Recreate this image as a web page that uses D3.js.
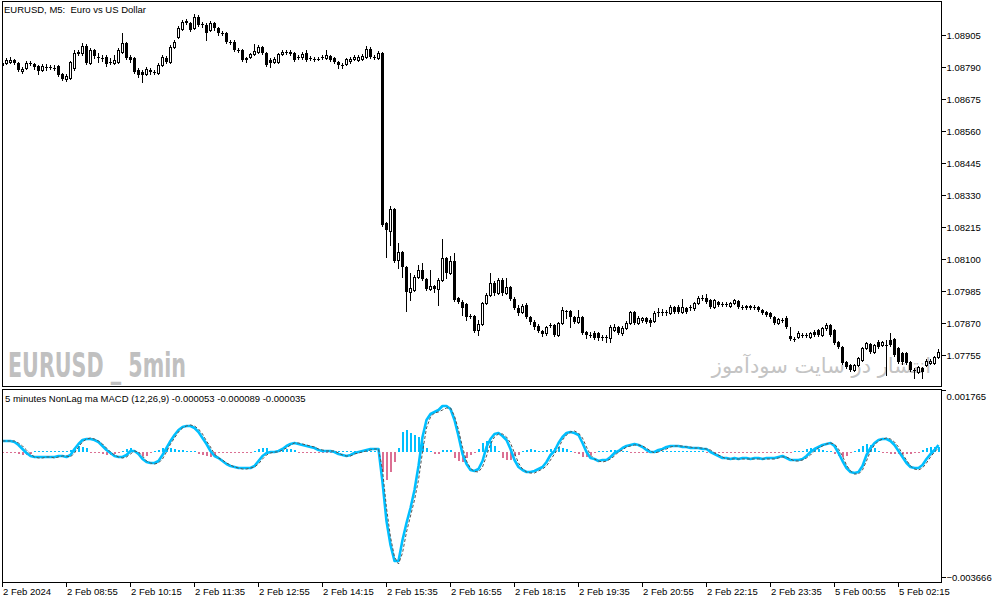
<!DOCTYPE html>
<html>
<head>
<meta charset="utf-8">
<script src="https://cdn.jsdelivr.net/npm/d3@7"></script>
<style>
  body { margin: 0; background: #fff; }
  svg text { font-family: "Liberation Sans", Arial, sans-serif; font-size: 9.5px; fill: #000; }
</style>
</head>
<body>
<div id="chart"></div>
<script>
// ---------------------------------------------------------------
// EURUSD M5 candles, prices stored as points above 1.07000
// ---------------------------------------------------------------
const priceBase = 1.07;

const openPts = [
  1797,1804,1808,1815,1804,1776,1786,1804,1801,1794,
  1779,1790,1790,1786,1794,1765,1747,1750,1786,1840,
  1840,1865,1804,1851,1826,1822,1826,1808,1804,1808,
  1844,1876,1826,1822,1779,1772,1765,1779,1772,1768,
  1797,1822,1808,1862,1898,1927,1955,1948,1930,1970,
  1945,1941,1923,1948,1930,1912,1912,1880,1880,1851,
  1851,1822,1826,1837,1844,1862,1840,1815,1808,1808,
  1837,1844,1844,1840,1826,1826,1840,1822,1819,1819,
  1826,1822,1830,1822,1808,1797,1801,1812,1819,1815,
  1819,1826,1855,1826,1822,1840,1229,1201,1280,1096,
  1125,1071,981,989,1035,1060,1028,992,1003,992,
  1025,1104,1050,1093,960,945,938,895,895,845,
  866,942,971,1014,978,1025,978,999,956,924,
  910,935,892,874,859,841,834,863,863,827,
  870,913,913,892,874,892,838,827,834,834,
  820,820,816,845,856,834,852,870,910,870,
  881,888,881,877,910,910,910,906,927,927,
  910,924,927,924,942,960,960,953,927,945,
  938,938,931,942,949,927,931,931,927,927,
  917,910,906,892,870,881,888,823,813,820,
  827,827,820,838,845,827,852,863,845,802,
  784,730,719,701,719,737,780,795,766,802,
  791,791,809,813,780,762,762,730,701,694,
  708,719,726,726,748
];

const highPts = [
  1812,1822,1826,1819,1808,1790,1812,1812,1804,1797,
  1801,1801,1797,1797,1797,1768,1765,1812,1851,1851,
  1876,1873,1858,1855,1840,1833,1833,1822,1833,1858,
  1912,1880,1833,1826,1786,1779,1790,1786,1779,1804,
  1833,1830,1869,1887,1937,1959,1962,1952,1980,1977,
  1952,1948,1955,1952,1934,1919,1916,1887,1887,1858,
  1855,1826,1840,1873,1869,1865,1844,1822,1826,1840,
  1851,1851,1851,1844,1833,1844,1851,1830,1826,1826,
  1833,1851,1833,1826,1812,1804,1822,1826,1833,1833,
  1837,1865,1862,1833,1847,1844,1233,1290,1283,1158,
  1129,1075,1050,1043,1078,1086,1032,1060,1007,1032,
  1172,1107,1111,1122,963,953,942,902,899,881,
  945,978,1050,1021,1032,1032,1032,1003,963,935,
  938,942,895,881,866,845,859,870,866,874,
  927,917,917,895,917,895,841,838,841,838,
  827,827,863,866,859,859,877,913,913,895,
  892,892,888,913,924,920,917,935,931,935,
  956,927,935,945,967,971,974,956,956,949,
  945,945,945,956,953,935,935,935,935,931,
  920,913,910,895,888,888,895,856,820,841,
  834,834,838,845,848,856,870,866,848,805,
  787,733,723,723,748,784,802,798,795,809,
  805,809,834,816,784,766,766,733,708,715,
  712,741,741,751,777
];

const lowPts = [
  1790,1801,1804,1801,1776,1768,1783,1797,1783,1765,
  1776,1779,1783,1779,1758,1743,1740,1747,1779,1833,
  1833,1801,1801,1822,1808,1812,1794,1801,1801,1804,
  1840,1819,1808,1768,1754,1736,1761,1765,1765,1765,
  1794,1804,1804,1858,1894,1923,1945,1919,1927,1937,
  1934,1887,1919,1923,1905,1905,1876,1873,1847,1844,
  1812,1808,1822,1833,1840,1837,1794,1790,1804,1804,
  1833,1837,1833,1812,1819,1819,1812,1815,1812,1815,
  1819,1819,1812,1804,1786,1786,1797,1804,1815,1812,
  1815,1822,1822,1819,1819,1219,1107,1150,1089,1068,
  1035,913,953,985,1032,1025,989,989,981,935,
  1021,1032,1046,949,942,899,881,888,838,827,
  863,938,967,971,974,971,974,953,920,899,
  906,888,866,848,838,823,827,856,823,823,
  866,888,856,870,870,830,816,820,813,809,
  809,802,802,841,830,827,848,866,866,866,
  874,870,859,874,895,899,899,902,906,906,
  906,906,917,917,938,953,942,924,924,931,
  931,931,927,938,924,920,920,920,920,913,
  902,895,888,866,866,874,852,809,805,816,
  820,820,816,823,823,823,845,823,795,780,
  723,708,698,698,715,733,777,762,762,780,
  787,683,787,751,726,723,723,698,672,690,
  672,715,723,723,744
];

const closePts = [
  1804,1815,1815,1804,1779,1783,1804,1804,1790,1776,
  1794,1790,1790,1786,1761,1747,1758,1808,1840,1844,
  1865,1804,1851,1830,1826,1822,1801,1804,1815,1851,
  1876,1822,1815,1772,1761,1761,1783,1772,1772,1797,
  1826,1808,1862,1880,1930,1952,1948,1923,1970,1941,
  1941,1912,1948,1930,1912,1912,1880,1880,1851,1851,
  1815,1815,1837,1847,1862,1840,1797,1804,1819,1837,
  1844,1844,1837,1815,1826,1837,1815,1822,1819,1819,
  1826,1833,1815,1808,1797,1797,1819,1819,1826,1826,
  1830,1855,1826,1826,1840,1222,1204,1280,1093,1125,
  1071,981,996,1035,1060,1028,992,1003,992,1025,
  1104,1050,1093,953,945,924,892,895,841,866,
  942,971,1014,978,1025,978,999,956,924,906,
  931,892,874,856,841,830,856,863,827,870,
  917,913,892,874,892,834,827,827,816,816,
  820,816,856,856,834,852,870,910,870,888,
  888,874,870,906,910,910,910,927,910,910,
  927,910,927,942,960,960,945,927,953,935,
  938,938,942,953,927,927,924,924,927,917,
  906,899,892,870,884,881,856,813,813,834,
  827,827,834,827,827,852,863,827,798,784,
  726,712,701,719,744,780,798,766,791,784,
  802,791,791,755,730,730,726,701,701,712,
  694,733,733,748,766
];

// NonLag MACD buffers, in millionths
const macdMain = [
  323,323,323,294,209,96,-17,-102,-130,-130,
  -130,-130,-130,-130,-102,-102,-130,-74,96,238,
  351,379,379,351,294,181,68,-17,-102,-130,
  -130,-74,40,40,-45,-187,-272,-300,-300,-243,
  -74,124,323,492,634,719,747,747,690,577,
  407,238,40,-102,-158,-243,-328,-385,-413,-441,
  -441,-441,-441,-385,-243,-102,-17,11,11,40,
  96,181,238,266,238,209,181,153,124,68,
  40,40,40,11,-45,-74,-102,-74,-17,11,
  40,68,96,96,96,-837,-1941,-2620,-3072,-3072,
  -2478,-1997,-1573,-1064,-385,436,917,1086,1143,1199,
  1313,1313,1228,917,464,-45,-328,-498,-526,-470,
  -243,153,379,521,549,464,351,96,-215,-413,
  -498,-554,-554,-526,-470,-413,-272,-74,40,266,
  436,549,577,549,492,266,11,-158,-187,-243,
  -215,-215,-130,-17,40,124,181,209,238,209,
  153,68,11,11,68,96,153,181,181,181,
  153,153,124,124,124,96,96,11,-45,-102,
  -158,-158,-187,-158,-187,-158,-158,-187,-158,-158,
  -187,-158,-158,-158,-130,-102,-158,-215,-215,-215,
  -187,-102,11,96,153,209,238,266,181,-17,
  -243,-441,-554,-583,-554,-385,-74,124,266,351,
  379,379,323,209,40,-130,-300,-413,-441,-441,
  -356,-187,-45,68,209
];

const macdSignal = [
  323,323,323,323,266,181,68,-45,-130,-158,
  -158,-130,-130,-158,-130,-102,-102,-130,-17,153,
  294,379,407,379,323,238,124,11,-74,-130,
  -158,-130,-45,40,11,-102,-243,-300,-328,-300,
  -187,11,238,407,577,690,747,775,747,662,
  521,323,153,-45,-158,-215,-300,-356,-413,-441,
  -470,-470,-441,-413,-328,-187,-74,-17,11,11,
  68,124,209,266,266,238,209,181,153,96,
  68,40,40,40,-17,-74,-102,-102,-45,-17,
  11,40,68,96,96,-498,-1573,-2393,-2959,-3157,
  -2846,-2252,-1799,-1347,-781,11,690,1002,1115,1143,
  1199,1256,1256,1030,640,150,-240,-450,-540,-554,
  -413,-102,238,436,521,521,436,266,-17,-300,
  -470,-554,-583,-583,-526,-470,-385,-215,-45,124,
  351,492,577,605,549,407,153,-74,-187,-243,
  -272,-243,-187,-102,11,68,153,181,209,209,
  181,124,40,-17,11,68,96,153,181,181,
  181,153,153,124,124,124,96,68,-17,-74,
  -130,-187,-187,-187,-187,-187,-187,-187,-187,-187,
  -187,-187,-187,-187,-158,-130,-130,-187,-243,-243,
  -215,-158,-74,40,124,181,238,266,238,96,
  -102,-356,-526,-611,-611,-498,-243,40,209,323,
  379,407,379,294,153,-45,-215,-385,-470,-498,
  -441,-300,-130,11,124
];

const macdHist = [
  -14,-14,-14,-14,-57,-85,-85,-57,14,14,
  14,14,14,14,14,14,28,71,113,170,
  141,113,-14,-14,-14,-57,-85,-85,-57,-14,
  14,85,113,28,-85,-113,-113,-28,14,57,
  113,113,113,85,57,57,42,28,14,-57,
  -85,-113,-141,-141,-28,-14,-14,-14,-14,-14,
  -14,-14,-14,28,85,113,113,42,14,14,
  57,85,85,57,-14,-14,-14,-14,-14,-14,
  -14,-14,-14,14,14,14,14,14,14,14,
  14,14,14,14,14,-566,-792,-566,-283,113,
  566,622,538,481,424,255,113,14,-57,-57,
  57,57,57,-170,-255,-283,-170,-85,-14,85,
  255,311,311,170,14,-170,-226,-226,-113,-85,
  28,57,85,71,42,14,57,85,113,141,
  113,85,28,-14,-57,-141,-141,-85,-14,14,
  14,14,57,57,57,28,14,-14,-14,-14,
  -14,-14,14,14,14,14,14,14,14,14,
  14,14,14,14,14,14,-14,-14,-14,-14,
  -14,-14,-14,-14,-14,-14,-14,-14,-14,-14,
  -14,-14,-14,-14,-14,-14,-14,-14,14,14,
  42,85,113,113,85,71,42,14,-57,-113,
  -141,-99,-28,28,85,170,226,198,113,14,
  -14,-28,-57,-57,-57,-57,-57,-42,-28,-14,
  57,113,141,141,141
];

// Axis tick values / labels
const priceTicks = [1.08905, 1.08790, 1.08675, 1.08560, 1.08445, 1.08330,
                    1.08215, 1.08100, 1.07985, 1.07870, 1.07755];
const macdTicks = [0.001765, -0.003666];
const timeTickBars = [0, 16, 32, 48, 64, 80, 96, 112, 128, 144, 160, 176, 192, 208, 224];
const timeTickLabels = ["2 Feb 2024", "2 Feb 08:55", "2 Feb 10:15", "2 Feb 11:35", "2 Feb 12:55",
                        "2 Feb 14:15", "2 Feb 15:35", "2 Feb 16:55", "2 Feb 18:15", "2 Feb 19:35",
                        "2 Feb 20:55", "2 Feb 22:15", "2 Feb 23:35", "5 Feb 00:55", "5 Feb 02:15"];

// ---------------------------------------------------------------
// Layout
// ---------------------------------------------------------------
const W = 994, H = 603;
const frameLeft = 2.5, frameRight = 941.5;
const mainTop = 1.5, mainBottom = 386.5;
const macdTop = 389.5, macdBottom = 582.5;

const svg = d3.select("#chart").append("svg")
    .attr("width", W)
    .attr("height", H);

svg.append("rect").attr("width", W).attr("height", H).attr("fill", "#fff");

const defs = svg.append("defs");
defs.append("clipPath").attr("id", "clip-main").append("rect")
    .attr("x", frameLeft).attr("y", mainTop)
    .attr("width", frameRight - frameLeft).attr("height", mainBottom - mainTop);
defs.append("clipPath").attr("id", "clip-macd").append("rect")
    .attr("x", frameLeft).attr("y", macdTop)
    .attr("width", frameRight - frameLeft).attr("height", macdBottom - macdTop);

// --- scales ---
const x = d3.scaleLinear()
    .domain([0, openPts.length - 1])
    .range([2.5, 938.5]);

const y = d3.scaleLinear()
    .domain([priceTicks[priceTicks.length - 1], priceTicks[0]])
    .range([355, 35]);

const ym = d3.scaleLinear()
    .domain([macdTicks[1], macdTicks[0]])
    .range([582, 390]);

// -----------------------------
// PRICE PANEL
// -----------------------------
const candles = openPts.map((o, i) => ({
    i,
    bull: closePts[i] > o,
    open: priceBase + o / 1e5,
    high: priceBase + highPts[i] / 1e5,
    low: priceBase + lowPts[i] / 1e5,
    close: priceBase + closePts[i] / 1e5
}));

const gMain = svg.append("g").attr("clip-path", "url(#clip-main)");

// watermarks sit behind the candles
gMain.append("text")
    .attr("x", 8).attr("y", 377)
    .attr("textLength", 178).attr("lengthAdjust", "spacingAndGlyphs")
    .style("font-family", "'Liberation Sans Narrow', 'DejaVu Sans Condensed', sans-serif")
    .style("font-weight", "bold")
    .style("font-size", "34px")
    .style("fill", "#c0c0c0")
    .style("white-space", "pre")
    .text("EURUSD _ 5min");

gMain.append("text")
    .attr("x", 931).attr("y", 373)
    .attr("text-anchor", "end")
    .style("font-family", "'DejaVu Sans', sans-serif")
    .style("font-size", "21px")
    .style("fill", "#c4c4c4")
    .text("انتشار در سایت سودآموز");

const gCandles = gMain.append("g").attr("shape-rendering", "crispEdges");

gCandles.selectAll("line.wick")
    .data(candles)
    .join("line")
    .attr("class", "wick")
    .attr("x1", d => x(d.i)).attr("x2", d => x(d.i))
    .attr("y1", d => Math.round(y(d.high)))
    .attr("y2", d => Math.round(y(d.low)) + 1)
    .attr("stroke", "#000");

// bear + doji: solid black bodies
gCandles.selectAll("rect.bear")
    .data(candles.filter(d => !d.bull))
    .join("rect")
    .attr("class", "bear")
    .attr("x", d => x(d.i) - 1.5)
    .attr("width", 3)
    .attr("y", d => Math.round(y(d.open)))
    .attr("height", d => Math.max(1, Math.round(y(d.close)) - Math.round(y(d.open))))
    .attr("fill", "#000");

// bull: white body with black outline
gCandles.selectAll("rect.bull")
    .data(candles.filter(d => d.bull))
    .join("rect")
    .attr("class", "bull")
    .attr("x", d => x(d.i) - 1)
    .attr("width", 2)
    .attr("y", d => Math.round(y(d.close)) + 0.5)
    .attr("height", d => Math.max(1, Math.round(y(d.open)) - Math.round(y(d.close))))
    .attr("fill", "#fff")
    .attr("stroke", "#000");

// -----------------------------
// MACD PANEL
// -----------------------------
const gMacd = svg.append("g").attr("clip-path", "url(#clip-macd)");
const zeroRow = Math.round(ym(0));

gMacd.append("g").attr("shape-rendering", "crispEdges")
    .selectAll("rect")
    .data(macdHist)
    .join("rect")
    .attr("x", (d, i) => x(i) - 0.5)
    .attr("width", 2)
    .attr("y", d => d > 0 ? Math.min(zeroRow - 1, Math.round(ym(d * 1e-6))) : zeroRow)
    .attr("height", d => d > 0
        ? zeroRow - Math.min(zeroRow - 1, Math.round(ym(d * 1e-6)))
        : Math.max(1, Math.round(ym(d * 1e-6)) - zeroRow))
    .attr("fill", d => d > 0 ? "#00bfff" : "#db7093");

const macdLine = d3.line()
    .x((d, i) => x(i))
    .y(d => ym(d * 1e-6));

gMacd.append("path")
    .datum(macdMain)
    .attr("d", macdLine)
    .attr("fill", "none")
    .attr("stroke", "#00bfff")
    .attr("stroke-width", 2.6)
    .attr("stroke-linejoin", "round");

gMacd.append("path")
    .datum(macdSignal)
    .attr("d", macdLine)
    .attr("fill", "none")
    .attr("stroke", "#555")
    .attr("stroke-width", 1)
    .attr("stroke-dasharray", "3,2");

// -----------------------------
// FRAMES, AXES, LABELS
// -----------------------------
const frames = svg.append("g").attr("shape-rendering", "crispEdges");
frames.append("rect")
    .attr("x", frameLeft).attr("y", mainTop)
    .attr("width", frameRight - frameLeft).attr("height", mainBottom - mainTop)
    .attr("fill", "none").attr("stroke", "#000");
frames.append("rect")
    .attr("x", frameLeft).attr("y", macdTop)
    .attr("width", frameRight - frameLeft).attr("height", macdBottom - macdTop)
    .attr("fill", "none").attr("stroke", "#000");

// price axis
const priceAxis = svg.append("g")
    .attr("transform", `translate(${frameRight},0)`)
    .attr("shape-rendering", "crispEdges")
    .call(d3.axisRight(y)
        .tickValues(priceTicks)
        .tickSize(4)
        .tickPadding(1)
        .tickFormat(d3.format(".5f")));
priceAxis.select(".domain").remove();
priceAxis.attr("font-family", null).attr("font-size", null);

// macd axis (max at top edge, min at bottom edge)
const macdAxis = svg.append("g")
    .attr("transform", `translate(${frameRight},0)`)
    .attr("shape-rendering", "crispEdges")
    .call(d3.axisRight(ym)
        .tickValues(macdTicks)
        .tickSize(4)
        .tickPadding(1)
        .tickFormat(d3.format(".6f")));
macdAxis.select(".domain").remove();
macdAxis.attr("font-family", null).attr("font-size", null);
macdAxis.selectAll(".tick")
    .filter(d => d < 0)
    .attr("transform", `translate(0,${ym(macdTicks[1]) - 4.5})`);
macdAxis.selectAll(".tick text")
    .filter(d => d > 0)
    .attr("dy", "1.05em");

// time axis
const timeAxis = svg.append("g")
    .attr("transform", `translate(0,${macdBottom})`)
    .attr("shape-rendering", "crispEdges")
    .call(d3.axisBottom(x)
        .tickValues(timeTickBars)
        .tickSize(4)
        .tickPadding(2)
        .offset(0)
        .tickFormat((d, i) => timeTickLabels[i]));
timeAxis.select(".domain").remove();
timeAxis.attr("font-family", null).attr("font-size", null);
timeAxis.selectAll(".tick text")
    .attr("text-anchor", "start")
    .attr("x", 0.5);

// chart titles
svg.append("text")
    .attr("x", 4).attr("y", 13)
    .style("white-space", "pre")
    .text("EURUSD, M5:  Euro vs US Dollar");

svg.append("text")
    .attr("x", 5).attr("y", 401.5)
    .text("5 minutes NonLag ma MACD (12,26,9) -0.000053 -0.000089 -0.000035");
</script>
</body>
</html>
